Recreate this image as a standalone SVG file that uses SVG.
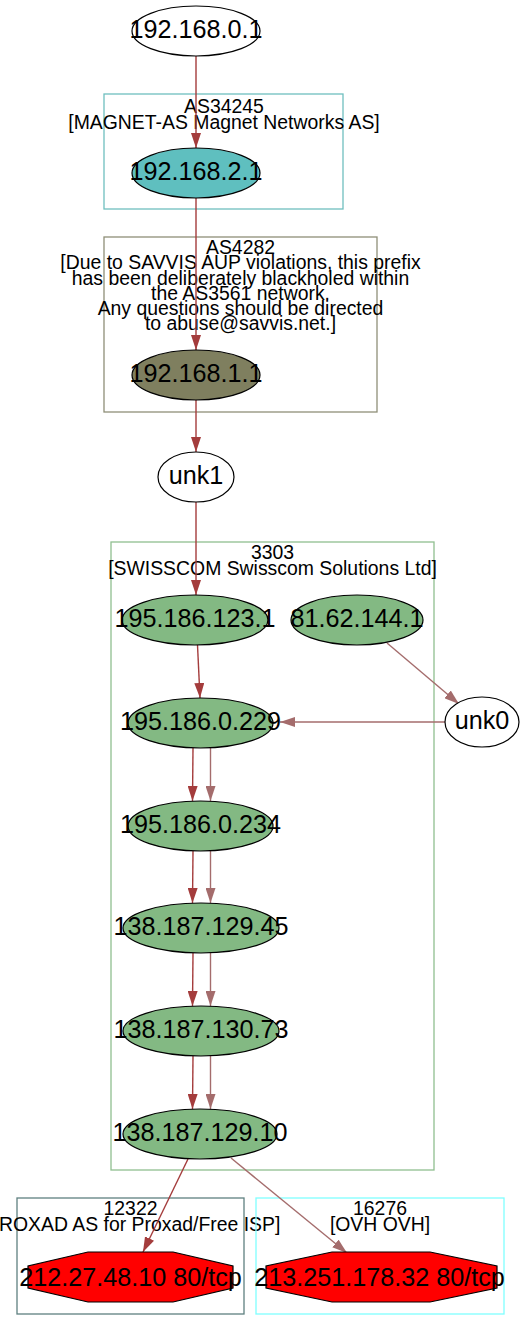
<svg xmlns="http://www.w3.org/2000/svg" width="525" height="1342" viewBox="0 0 525 1342">
<defs>
<style>
text{font-family:"Liberation Sans",Arial,Helvetica,sans-serif;fill:#000;text-anchor:middle}
.n{font-size:25.2px}
.c{font-size:19.4px}
.node{stroke:#000;stroke-width:1.2}
.cl{fill:none;stroke-width:1.3}
.ed{stroke:#a43c3c;stroke-width:1.4;fill:none;marker-end:url(#ad)}
.el{stroke:#a46c6c;stroke-width:1.4;fill:none;marker-end:url(#al)}
.g{fill:#83b983}
</style>
<marker id="ad" viewBox="0 0 15 10" refX="15" refY="5" markerWidth="15" markerHeight="10" markerUnits="userSpaceOnUse" orient="auto"><path d="M0,0 L15,5 L0,10 z" fill="#a43c3c"/></marker>
<marker id="al" viewBox="0 0 15 10" refX="15" refY="5" markerWidth="15" markerHeight="10" markerUnits="userSpaceOnUse" orient="auto"><path d="M0,0 L15,5 L0,10 z" fill="#a46c6c"/></marker>
</defs>
<rect width="525" height="1342" fill="#fff"/>

<g id="cluster_AS34245">
<rect class="cl" x="104" y="94" width="239" height="115" stroke="#6fbfbf"/>
<text class="c" x="224" y="113">AS34245</text>
<text class="c" x="224" y="128.5">[MAGNET-AS Magnet Networks AS]</text>
</g>
<g id="cluster_AS4282">
<rect class="cl" x="104" y="237" width="273" height="175" stroke="#8f8f78"/>
<text class="c" x="240.5" y="254">AS4282</text>
<text class="c" x="240.5" y="269.3">[Due to SAVVIS AUP violations, this prefix</text>
<text class="c" x="240.5" y="284.5">has been deliberately blackholed within</text>
<text class="c" x="240.5" y="299.5">the AS3561 network.</text>
<text class="c" x="240.5" y="314.5">Any questions should be directed</text>
<text class="c" x="240.5" y="330">to abuse@savvis.net.]</text>
</g>
<g id="cluster_3303">
<rect class="cl" x="111" y="542" width="323" height="628" stroke="#90bf90"/>
<text class="c" x="272.5" y="559">3303</text>
<text class="c" x="272.5" y="574.5">[SWISSCOM Swisscom Solutions Ltd]</text>
</g>
<g id="cluster_12322">
<rect class="cl" x="17" y="1198" width="227" height="116" stroke="#5f8080"/>
<text class="c" x="130.5" y="1215">12322</text>
<text class="c" x="130.5" y="1230.5">[PROXAD AS for Proxad/Free ISP]</text>
</g>
<g id="cluster_16276">
<rect class="cl" x="256" y="1198" width="248" height="116" stroke="#80ffff"/>
<text class="c" x="380" y="1215">16276</text>
<text class="c" x="380" y="1230.5">[OVH OVH]</text>
</g>

<g id="edges">
<line class="ed" x1="196" y1="56" x2="196" y2="148"/>
<line class="ed" x1="196" y1="198" x2="196" y2="350"/>
<line class="ed" x1="196" y1="400" x2="196" y2="452"/>
<line class="ed" x1="196" y1="502" x2="196" y2="595"/>
<line class="ed" x1="197.5" y1="645" x2="200" y2="698"/>
<line class="el" x1="387" y1="643" x2="459" y2="704"/>
<line class="el" x1="445" y1="722" x2="280" y2="722"/>
<line class="ed" x1="193" y1="748" x2="192.5" y2="801"/>
<line class="el" x1="210.5" y1="748" x2="210.5" y2="801"/>
<line class="ed" x1="193" y1="851" x2="192.5" y2="903"/>
<line class="el" x1="210.5" y1="851" x2="210.5" y2="903"/>
<line class="ed" x1="193" y1="953" x2="192.5" y2="1006"/>
<line class="el" x1="210.5" y1="953" x2="210.5" y2="1006"/>
<line class="ed" x1="193" y1="1056" x2="192.5" y2="1109"/>
<line class="el" x1="210.5" y1="1056" x2="210.5" y2="1109"/>
<line class="ed" x1="188" y1="1159" x2="143" y2="1252"/>
<line class="el" x1="231" y1="1158" x2="347" y2="1253"/>
</g>

<g id="n_192.168.0.1">
<ellipse class="node" cx="196" cy="31" rx="64" ry="25" fill="#fff"/>
<text class="n" x="196" y="37.5">192.168.0.1</text>
</g>
<g id="n_192.168.2.1">
<ellipse class="node" cx="196" cy="173" rx="64" ry="25" fill="#5fbfbf"/>
<text class="n" x="196" y="179.5">192.168.2.1</text>
</g>
<g id="n_192.168.1.1">
<ellipse class="node" cx="196" cy="375" rx="64" ry="25" fill="#7f7f5f"/>
<text class="n" x="196" y="381.5">192.168.1.1</text>
</g>
<g id="n_unk1">
<ellipse class="node" cx="196" cy="477" rx="38" ry="25" fill="#fff"/>
<text class="n" x="196" y="483.5">unk1</text>
</g>
<g id="n_195.186.123.1">
<ellipse class="node g" cx="195" cy="620" rx="73" ry="25"/>
<text class="n" x="195" y="626.5">195.186.123.1</text>
</g>
<g id="n_81.62.144.1">
<ellipse class="node g" cx="357" cy="620" rx="66" ry="25"/>
<text class="n" x="357" y="626.5">81.62.144.1</text>
</g>
<g id="n_unk0">
<ellipse class="node" cx="482" cy="722" rx="37" ry="25" fill="#fff"/>
<text class="n" x="482" y="728.5">unk0</text>
</g>
<g id="n_195.186.0.229">
<ellipse class="node g" cx="200.5" cy="723" rx="72.5" ry="25"/>
<text class="n" x="200.5" y="729.5">195.186.0.229</text>
</g>
<g id="n_195.186.0.234">
<ellipse class="node g" cx="200.5" cy="826" rx="72.5" ry="25"/>
<text class="n" x="200.5" y="832.5">195.186.0.234</text>
</g>
<g id="n_138.187.129.45">
<ellipse class="node g" cx="201" cy="928" rx="78" ry="25"/>
<text class="n" x="201" y="934.5">138.187.129.45</text>
</g>
<g id="n_138.187.130.73">
<ellipse class="node g" cx="201" cy="1031" rx="78" ry="25"/>
<text class="n" x="201" y="1037.5">138.187.130.73</text>
</g>
<g id="n_138.187.129.10">
<ellipse class="node g" cx="200" cy="1134" rx="77" ry="25"/>
<text class="n" x="200" y="1140.5">138.187.129.10</text>
</g>
<g id="n_212.27.48.10">
<polygon class="node" fill="#ff0000" points="173,1252 233,1266 233,1288 173,1302 88,1302 28,1288 28,1266 88,1252"/>
<text class="n" x="130.5" y="1285.5">212.27.48.10 80/tcp</text>
</g>
<g id="n_213.251.178.32">
<polygon class="node" fill="#ff0000" points="430,1252 497,1266 497,1288 430,1302 332,1302 266,1288 266,1266 332,1252"/>
<text class="n" x="379.5" y="1285.5">213.251.178.32 80/tcp</text>
</g>
</svg>
